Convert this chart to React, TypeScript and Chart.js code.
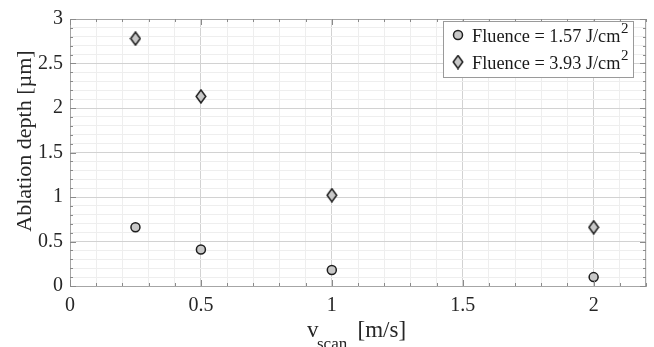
import React, { useEffect, useRef } from "react";
import { Chart, registerables } from "chart.js";

Chart.register(...registerables);

const scanSpeeds = [0.25, 0.5, 1, 2];
const depthLow = [0.66, 0.41, 0.18, 0.1];
const depthHigh = [2.78, 2.13, 1.02, 0.66];
const seriesLabels = ["Fluence = 1.57 J/cm", "Fluence = 3.93 J/cm"];
const xTitleMain = "v";
const xTitleSub = "scan";
const xTitleUnit = "[m/s]";
const yTitle = "Ablation depth [µm]";

const FONT = "'Liberation Serif', 'Times New Roman', serif";
const FILL = "#c8c8c8";
const EDGE = "#1e1e1e";

function makeDiamond(): HTMLCanvasElement {
  const c = document.createElement("canvas");
  const w = 12, h = 15;
  c.width = w; c.height = h;
  const g = c.getContext("2d")!;
  g.beginPath();
  g.moveTo(w / 2, 1);
  g.lineTo(w - 1.2, h / 2);
  g.lineTo(w / 2, h - 1);
  g.lineTo(1.2, h / 2);
  g.closePath();
  g.fillStyle = FILL;
  g.fill();
  g.lineWidth = 1.5;
  g.strokeStyle = EDGE;
  g.stroke();
  return c;
}

const isMajor = (v: number) => Math.abs(v * 2 - Math.round(v * 2)) < 1e-6;

export default function App() {
  const ref = useRef<HTMLCanvasElement>(null);
  useEffect(() => {
    document.body.style.margin = "0";
    const diamond = makeDiamond();
    const decor = {
      id: "decor",
      afterDraw(chart: any) {
        const { ctx, chartArea: a, scales } = chart;
        const xs = scales.x, ys = scales.y;
        ctx.save();
        // top & right borders
        ctx.strokeStyle = "#a6a6a6";
        ctx.lineWidth = 1;
        ctx.beginPath();
        ctx.moveTo(a.left, a.top + 0.5);
        ctx.lineTo(a.right, a.top + 0.5);
        ctx.moveTo(a.right - 0.5, a.top);
        ctx.lineTo(a.right - 0.5, a.bottom);
        ctx.stroke();
        // inner ticks
        ctx.strokeStyle = "#8a8a8a";
        ctx.beginPath();
        xs.ticks.forEach((t: any) => {
          const px = Math.round(xs.getPixelForValue(t.value)) + 0.5;
          const L = isMajor(t.value) ? 6 : 3;
          ctx.moveTo(px, a.bottom); ctx.lineTo(px, a.bottom - L);
          ctx.moveTo(px, a.top); ctx.lineTo(px, a.top + L);
        });
        ys.ticks.forEach((t: any) => {
          const py = Math.round(ys.getPixelForValue(t.value)) + 0.5;
          const L = isMajor(t.value) ? 6 : 3;
          ctx.moveTo(a.left, py); ctx.lineTo(a.left + L, py);
          ctx.moveTo(a.right, py); ctx.lineTo(a.right - L, py);
        });
        ctx.stroke();

        // y title
        ctx.fillStyle = "#262626";
        ctx.font = `22px ${FONT}`;
        ctx.textAlign = "center";
        ctx.textBaseline = "middle";
        ctx.save();
        ctx.translate(25, 141);
        ctx.rotate(-Math.PI / 2);
        ctx.fillText(yTitle, 0, 0);
        ctx.restore();

        // x title with subscript
        ctx.textAlign = "left";
        ctx.textBaseline = "alphabetic";
        const cx = (a.left + a.right) / 2;
        ctx.font = `23px ${FONT}`;
        ctx.fillText(xTitleMain, cx - 51, 337);
        ctx.font = `17px ${FONT}`;
        ctx.fillText(xTitleSub, cx - 41, 349);
        ctx.font = `23px ${FONT}`;
        ctx.fillText(xTitleUnit, cx - 0.5, 337);

        // legend
        const bx = 443, by = 21, bw = 190, bh = 56;
        ctx.fillStyle = "#ffffff";
        ctx.fillRect(bx, by, bw, bh);
        ctx.strokeStyle = "#9a9a9a";
        ctx.strokeRect(bx + 0.5, by + 0.5, bw, bh);
        const rows = [35, 62];
        rows.forEach((ry, i) => {
          if (i === 0) {
            ctx.beginPath();
            ctx.arc(458, ry, 4.5, 0, Math.PI * 2);
            ctx.fillStyle = FILL;
            ctx.fill();
            ctx.lineWidth = 1.5;
            ctx.strokeStyle = EDGE;
            ctx.stroke();
          } else {
            ctx.drawImage(diamond, 458 - diamond.width / 2, ry - diamond.height / 2);
          }
          ctx.fillStyle = "#1a1a1a";
          ctx.font = `18.3px ${FONT}`;
          ctx.textBaseline = "alphabetic";
          ctx.fillText(seriesLabels[i], 472, ry + 7);
          const tw = ctx.measureText(seriesLabels[i]).width;
          ctx.font = `15px ${FONT}`;
          ctx.fillText("2", 472 + tw + 0.5, ry - 2);
        });
        ctx.restore();
      },
    };

    const chart = new Chart(ref.current!, {
      type: "scatter",
      data: {
        datasets: [
          {
            label: seriesLabels[0],
            data: scanSpeeds.map((x, i) => ({ x, y: depthLow[i] })),
            pointStyle: "circle",
            pointRadius: 4.5,
            pointHoverRadius: 4.5,
            backgroundColor: FILL,
            borderColor: EDGE,
            borderWidth: 1.5,
          },
          {
            label: seriesLabels[1],
            data: scanSpeeds.map((x, i) => ({ x, y: depthHigh[i] })),
            pointStyle: diamond as any,
            pointRadius: 6,
            backgroundColor: FILL,
            borderColor: EDGE,
          },
        ],
      },
      options: {
        animation: false,
        responsive: false,
        events: [],
        layout: { padding: { left: 0, top: 12, right: 3, bottom: 0 }, autoPadding: false } as any,
        plugins: { legend: { display: false }, tooltip: { enabled: false } },
        scales: {
          x: {
            type: "linear",
            min: 0,
            max: 2.2,
            afterFit: (s: any) => { s.height = 61; },
            ticks: {
              stepSize: 0.1,
              autoSkip: false,
              maxRotation: 0,
              padding: 8,
              color: "#262626",
              font: { family: FONT, size: 20 },
              callback: (v: any) => (isMajor(Number(v)) ? String(Math.round(Number(v) * 10) / 10) : ""),
            },
            grid: {
              drawTicks: false,
              color: (c: any) => (isMajor(c.tick.value) ? "#d2d2d2" : "#eeeeee"),
            },
            border: { display: true, color: "#a6a6a6" },
          },
          y: {
            type: "linear",
            min: 0,
            max: 3,
            afterFit: (s: any) => { s.width = 70; },
            ticks: {
              stepSize: 0.1,
              autoSkip: false,
              padding: 7,
              color: "#262626",
              font: { family: FONT, size: 20 },
              callback: (v: any) => (isMajor(Number(v)) ? String(Math.round(Number(v) * 10) / 10) : ""),
            },
            grid: {
              drawTicks: false,
              color: (c: any) => (isMajor(c.tick.value) ? "#d2d2d2" : "#eeeeee"),
            },
            border: { display: true, color: "#a6a6a6" },
          },
        },
      },
      plugins: [decor],
    });
    return () => chart.destroy();
  }, []);
  return (
    <div style={{ width: 654, height: 347 }}>
      <canvas ref={ref} width={654} height={347} style={{ display: "block" }} />
    </div>
  );
}
